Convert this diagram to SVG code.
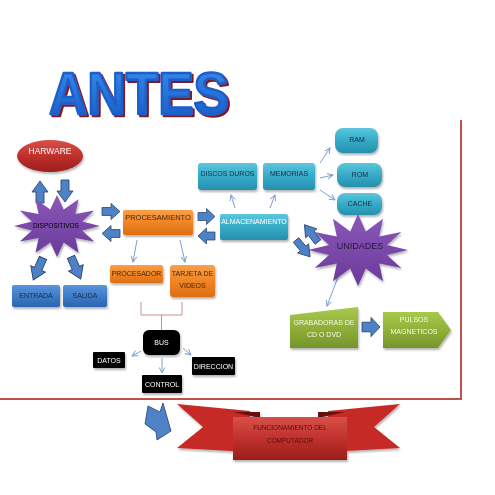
<svg xmlns="http://www.w3.org/2000/svg" width="495" height="495" viewBox="0 0 495 495">
<defs>
<linearGradient id="gOr" x1="0" y1="0" x2="0" y2="1"><stop offset="0" stop-color="#f7a04a"/><stop offset="0.5" stop-color="#f08526"/><stop offset="1" stop-color="#dd6e12"/></linearGradient>
<linearGradient id="gBl" x1="0" y1="0" x2="0" y2="1"><stop offset="0" stop-color="#5a95dc"/><stop offset="0.5" stop-color="#3e7cc8"/><stop offset="1" stop-color="#2c63ae"/></linearGradient>
<linearGradient id="gTe" x1="0" y1="0" x2="0" y2="1"><stop offset="0" stop-color="#5cc6de"/><stop offset="0.5" stop-color="#35abc8"/><stop offset="1" stop-color="#2690ad"/></linearGradient>
<linearGradient id="gGr" x1="0" y1="0" x2="0" y2="1"><stop offset="0" stop-color="#a8c84c"/><stop offset="0.5" stop-color="#90b03a"/><stop offset="1" stop-color="#76942a"/></linearGradient>
<linearGradient id="gRd" x1="0" y1="0" x2="0" y2="1"><stop offset="0" stop-color="#d8504a"/><stop offset="0.5" stop-color="#c0312c"/><stop offset="1" stop-color="#9a1e1c"/></linearGradient>
<linearGradient id="gPu" x1="0" y1="0" x2="0" y2="1"><stop offset="0" stop-color="#8a58b8"/><stop offset="1" stop-color="#6a3a9a"/></linearGradient>
<linearGradient id="gAn" x1="0" y1="0" x2="0" y2="1"><stop offset="0" stop-color="#3c8ef0"/><stop offset="1" stop-color="#1458c4"/></linearGradient>
<filter id="sh" x="-20%" y="-20%" width="140%" height="150%"><feDropShadow dx="1" dy="2" stdDeviation="1" flood-color="#000" flood-opacity="0.3"/></filter>
<filter id="tsh" x="-10%" y="-10%" width="130%" height="140%"><feDropShadow dx="2" dy="2" stdDeviation="0.3" flood-color="#7a1a28" flood-opacity="1"/></filter>
<path id="ba" d="M0,-4 H10 V-8 L20,0 L10,8 V4 H0 Z"/>
<marker id="ah" viewBox="0 0 10 10" refX="9" refY="5" markerWidth="7" markerHeight="7" orient="auto" markerUnits="userSpaceOnUse"><path d="M1,1 L9,5 L1,9" fill="none" stroke="#7f9fd0" stroke-width="1.4"/></marker>
<style>
text{font-family:"Liberation Sans Narrow","Liberation Sans",Arial,sans-serif;text-anchor:middle;font-size:7px}
.bx{filter:url(#sh)}
.or{fill:url(#gOr)}
.bl{fill:url(#gBl)}
.te{fill:url(#gTe)}
.gr{fill:url(#gGr)}
.bk{fill:#000}
.dk{fill:#1c2a48}
.ob{fill:#4a2408}
.wt{fill:#fff}
.thin{stroke:#7f9fd0;stroke-width:1;fill:none;marker-end:url(#ah)}
.blk{fill:#4f81c6;stroke:#23436e;stroke-width:0.8}
</style>
</defs>

<rect width="495" height="495" fill="#fff"/>

<g id="frame" stroke="#c0504d" stroke-width="2" fill="none">
<line x1="461" y1="120" x2="461" y2="400"/>
<line x1="0" y1="399" x2="462" y2="399"/>
</g>

<g id="title" filter="url(#tsh)">
<text x="139" y="114" style="font-family:'Liberation Sans',Arial,sans-serif;font-size:60px;font-weight:bold" fill="url(#gAn)" stroke="#1a5ec8" stroke-width="2.5" stroke-linejoin="round" textLength="180" lengthAdjust="spacingAndGlyphs">ANTES</text>
</g>

<g id="connectors">
<use href="#ba" class="blk" transform="translate(40,203) rotate(-90) scale(1.1,1)"/>
<use href="#ba" class="blk" transform="translate(65,180) rotate(90) scale(1.1,1)"/>
<use href="#ba" class="blk" transform="translate(102,211.5) scale(0.9,1)"/>
<use href="#ba" class="blk" transform="translate(120,233.5) rotate(180) scale(0.9,1)"/>
<use href="#ba" class="blk" transform="translate(198,216.5) scale(0.85,1)"/>
<use href="#ba" class="blk" transform="translate(215,236) rotate(180) scale(0.85,1)"/>
<use href="#ba" class="blk" transform="translate(43,258) rotate(114) scale(1.2,1)"/>
<use href="#ba" class="blk" transform="translate(71,257) rotate(66) scale(1.2,1)"/>
<use href="#ba" class="blk" transform="translate(318,242) rotate(232) scale(1.1,0.9)"/>
<use href="#ba" class="blk" transform="translate(296,240) rotate(50) scale(1.1,0.9)"/>
<use href="#ba" class="blk" transform="translate(362,327) scale(0.9,1.2)"/>
<polygon class="blk" points="148,406 160,412 163,403 171,431 157,440 156,432 145,424"/>
<line class="thin" x1="137" y1="240" x2="133" y2="262"/>
<line class="thin" x1="180" y1="240" x2="185" y2="262"/>
<line class="thin" x1="235" y1="208" x2="231" y2="195"/>
<line class="thin" x1="270" y1="208" x2="275" y2="195"/>
<line class="thin" x1="320" y1="163" x2="330" y2="148"/>
<line class="thin" x1="320" y1="178" x2="333" y2="175"/>
<line class="thin" x1="320" y1="190" x2="335" y2="200"/>
<line class="thin" x1="338" y1="277" x2="327" y2="306"/>
<line class="thin" x1="141" y1="351" x2="132" y2="356"/>
<line class="thin" x1="162" y1="358" x2="162" y2="373"/>
<line class="thin" x1="183" y1="348" x2="191" y2="355"/>
<path d="M141,302 V315 H182 V302 M161.5,315 V330" fill="none" stroke="#c9908c" stroke-width="1"/>
</g>

<g id="harware" class="bx"><ellipse cx="50" cy="156" rx="33" ry="16" fill="url(#gRd)"/><text x="50" y="154" class="wt" style="font-size:8.5px">HARWARE</text></g>

<g id="dispositivos" class="bx"><polygon fill="url(#gPu)" points="100,226 82.1,230.4 94.2,241.5 75.4,238 78.5,252.8 63.7,242.4 57,257 50.3,242.4 35.5,252.8 38.6,238 19.8,241.5 31.9,230.4 14,226 31.9,221.6 19.8,210.5 38.6,214 35.5,199.2 50.3,209.6 57,195 63.7,209.6 78.5,199.2 75.4,214 94.2,210.5 82.1,221.6"/><text x="56" y="228" class="bk" style="font-size:6.5px">DISPOSITIVOS</text></g>

<g id="entrada" class="bx"><rect x="12" y="285" width="48" height="22" rx="2" class="bl"/><text x="36" y="298" class="dk">ENTRADA</text></g>
<g id="salida" class="bx"><rect x="63" y="285" width="44" height="22" rx="2" class="bl"/><text x="85" y="298" class="dk">SALIDA</text></g>

<g id="procesamiento" class="bx"><rect x="123" y="210" width="70" height="25" rx="2" class="or"/><text x="158" y="220" class="ob" style="font-size:7.5px">PROCESAMIENTO</text></g>
<g id="procesador" class="bx"><rect x="110" y="265" width="53" height="18" rx="2" class="or"/><text x="136.5" y="276" class="ob">PROCESADOR</text></g>
<g id="tarjeta" class="bx"><rect x="170" y="265" width="45" height="32" rx="3" class="or"/><text x="192.5" y="276" class="ob">TARJETA DE</text><text x="192.5" y="288" class="ob">VIDEOS</text></g>

<g id="almacenamiento" class="bx"><rect x="220" y="214" width="68" height="26" rx="2" class="te"/><text x="254" y="224" class="wt">ALMACENAMIENTO</text></g>
<g id="discos" class="bx"><rect x="198" y="163" width="59" height="27" rx="3" class="te"/><text x="227.5" y="176" class="dk">DISCOS DUROS</text></g>
<g id="memorias" class="bx"><rect x="263" y="163" width="52" height="27" rx="3" class="te"/><text x="289" y="176" class="dk">MEMORIAS</text></g>
<g id="ram" class="bx"><rect x="335" y="128" width="43" height="25" rx="8" class="te"/><text x="357" y="142" class="dk">RAM</text></g>
<g id="rom" class="bx"><rect x="337" y="163" width="45" height="24" rx="8" class="te"/><text x="360" y="177" class="dk">ROM</text></g>
<g id="cache" class="bx"><rect x="337" y="193" width="45" height="22" rx="8" class="te"/><text x="360" y="206" class="dk">CACHE</text></g>

<g id="unidades" class="bx"><polygon fill="url(#gPu)" points="408,250 387,254.9 401.3,268 379.2,263.4 383,281.2 365.8,268.4 358,286 350.2,268.4 333,281.2 336.8,263.4 314.7,268 329,254.9 308,250 329,245.1 314.7,232 336.8,236.6 333,218.8 350.2,231.6 358,214 365.8,231.6 383,218.8 379.2,236.6 401.3,232 387,245.1"/><text x="360" y="249" style="font-size:9px" fill="#2a1640">UNIDADES</text></g>

<g id="grabadoras" class="bx"><polygon points="290,315 358,307 358,348 290,348" class="gr"/><text x="324" y="325" fill="#f4f8e8">GRABADORAS DE</text><text x="324" y="337" fill="#f4f8e8">CD O DVD</text></g>
<g id="pulsos" class="bx"><polygon points="383,312 438,312 451,330 438,348 383,348" class="gr"/><text x="414" y="322" fill="#f4f8e8">PULSOS</text><text x="414" y="334" fill="#f4f8e8">MAGNETICOS</text></g>

<g id="bus" class="bx"><rect x="143" y="330" width="37" height="25" rx="6" class="bk"/><text x="161.5" y="345" class="wt">BUS</text></g>
<g id="datos" class="bx"><rect x="93" y="352" width="32" height="16" rx="1" class="bk"/><text x="109" y="362.5" class="wt">DATOS</text></g>
<g id="direccion" class="bx"><rect x="192" y="357" width="43" height="18" rx="1" class="bk"/><text x="213.5" y="368.5" class="wt">DIRECCION</text></g>
<g id="control" class="bx"><rect x="142" y="375" width="40" height="18" rx="1" class="bk"/><text x="162" y="386.5" class="wt">CONTROL</text></g>

<g id="funcionamiento" class="bx">
<polygon points="177,404 250,411 250,452 177,448 203,427" fill="#c62a28"/>
<polygon points="400,404 328,411 328,452 400,448 374,427" fill="#c62a28"/>
<polygon points="233,412 260,412 260,418" fill="#6a1010"/>
<polygon points="318,412 345,412 318,418" fill="#6a1010"/>
<rect x="233" y="417" width="114" height="43" fill="url(#gRd)"/>
<text x="290" y="430" fill="#5a0e0e" style="font-size:6.5px">FUNCIONAMIENTO DEL</text>
<text x="290" y="443" fill="#5a0e0e" style="font-size:6.5px">COMPUTADOR</text>
</g>
</svg>
